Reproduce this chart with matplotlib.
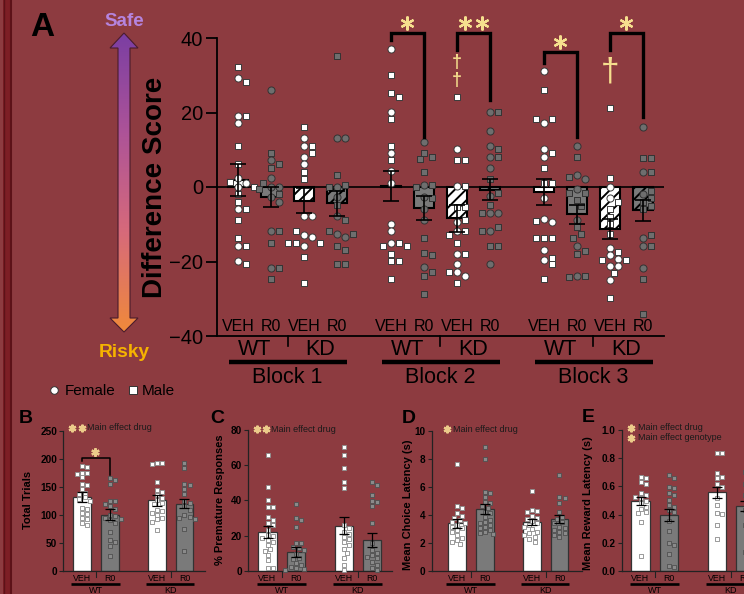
import numpy as np
import matplotlib
matplotlib.use("Agg")
import matplotlib.pyplot as plt
import matplotlib.transforms as mtrans
from matplotlib.patches import Polygon, Rectangle
from matplotlib.colors import LinearSegmentedColormap

plt.rcParams['font.family'] = ['Liberation Sans', 'DejaVu Sans']
plt.rcParams['hatch.linewidth'] = 1.4

W, H = 744, 594
BG = '#8d3b40'
STAR = '#f6df8e'
GREY = '#7a7a7a'

# ---------------- panel A : difference score ----------------
cond_labels = ['VEH', 'R0', 'VEH', 'R0']
geno_labels = ['WT', 'KD']
block_labels = ['Block 1', 'Block 2', 'Block 3']

mean_b1 = [1.9, -2.6, -3.7, -4.4]
sem_b1 = [4.2, 2.7, 3.4, 3.3]
mean_b2 = [0.3, -5.7, -8.4, -0.7]
sem_b2 = [4.1, 3.2, 3.6, 2.9]
mean_b3 = [-1.3, -7.3, -11.3, -6.3]
sem_b3 = [3.5, 2.6, 2.7, 2.7]

# order in each list: WT VEH, WT R0, KD VEH, KD R0
b1_fem = [[29.2, 19.1, 17.1, 2.3, 1.1, 0.0, -5.9, -15.8, -19.8],
          [26.0, 7.2, 2.3, 0.0, 0.0, -2.6, -3.9, -11.8, -21.8],
          [13.1, 11.1, 8.1, 6.1, -7.8, -7.8, -12.9, -13.5, -15.8],
          [13.1, 13.1, 0.0, -2.6, -7.7, -12.7, -13.5]]
b1_male = [[32.1, 28.1, 19.1, 11.1, 6.1, 1.4, 0.0, -1.9, -3.9, -5.9, -8.9, -13.8, -15.8, -20.8],
           [9.0, 6.1, 5.0, 1.2, -0.5, -1.8, -11.8, -14.9, -21.8, -24.8],
           [16.1, 11.1, 9.1, 4.1, 2.1, -11.8, -14.9, -14.9, -14.9, -18.9, -25.9],
           [35.2, 3.1, 0.5, 0.0, -4.8, -8.9, -11.8, -12.7, -15.8, -16.9, -20.8, -20.8]]
b2_fem = [[37.0, 20.1, 9.0, 4.3, 1.2, -9.8, -11.9, -14.9],
          [12.1, 0.5, -2.6, -6.0, -8.9, -21.6],
          [10.1, 0.2, -9.5, -11.9, -17.9, -20.8, -22.9, -23.8],
          [20.1, 15.1, 11.1, 8.1, 5.1, -2.5, -6.9, -6.9, -11.9, -20.8]]
b2_male = [[30.1, 25.2, 24.1, 18.2, 11.1, 7.2, -14.9, -15.8, -15.8, -17.9, -19.9, -19.9, -24.8],
           [9.0, 8.1, 7.5, 4.1, 0.5, 0.0, -3.0, -13.8, -17.6, -18.3, -22.9, -23.8, -28.7],
           [24.1, 7.2, 7.2, 0.2, -5.5, -5.5, -8.9, -11.9, -12.8, -14.9, -17.9, -22.9, -25.9],
           [20.1, 10.1, 8.1, 2.1, -1.5, -4.8, -6.9, -10.8, -11.9, -15.8, -15.8]]
b3_fem = [[31.1, 17.1, 10.1, 8.1, -2.9, -8.7, -9.5, -16.8, -19.6],
          [11.1, 3.2, 2.2, -0.5, -8.9, -15.8, -23.9],
          [0.0, -3.0, -16.5, -18.3, -19.4, -21.3, -21.3, -25.0],
          [16.2, 4.1, -2.0, -13.7, -15.9, -21.8]]
b3_male = [[26.1, 18.2, 18.2, 9.0, 5.2, 1.0, 1.0, -9.2, -13.8, -13.8, -13.8, -19.0, -20.8, -24.8],
           [8.1, 2.7, -1.5, -1.5, -3.5, -5.0, -10.8, -12.5, -13.8, -17.2, -17.9, -23.9, -24.2],
           [21.1, 2.3, -3.9, -6.0, -8.0, -10.0, -12.5, -17.5, -19.7, -19.7, -23.0, -29.9],
           [7.7, 7.7, 4.1, -1.0, -3.0, -4.0, -5.0, -6.0, -13.0, -15.9, -24.8, -34.0]]

# ---------------- panels B-E ----------------
trials_mean = [132, 100, 126, 120]
trials_sem = [8.6, 10, 10, 8.4]
trials_pts = [[187, 185, 175, 174, 173, 167, 155, 153, 146, 139, 137, 131, 128, 125, 112, 110, 103, 101, 95, 92, 86, 82],
              [165, 162, 155, 125, 125, 120, 115, 110, 100, 97, 95, 93, 90, 85, 70, 55, 52, 45, 27],
              [193, 193, 191, 159, 144, 141, 135, 130, 126, 122, 119, 109, 106, 104, 100, 95, 92, 88, 73],
              [192, 184, 156, 153, 147, 138, 125, 122, 115, 109, 100, 96, 95, 93, 74, 36]]

prem_mean = [22.2, 10.4, 25.6, 17.4]
prem_sem = [3.4, 2.8, 5.0, 3.8]
prem_pts = [[66, 47.4, 40.2, 36.4, 36, 30.7, 28.8, 26.9, 26, 23, 20.3, 19.9, 18.8, 17.4, 16.5, 14.6, 12.3, 11.4, 8.9, 6.1, 1.7, 1.3],
            [37.7, 30.1, 28.8, 25, 15.9, 15.5, 13.7, 12.7, 11.8, 9.3, 7, 6.4, 4.2, 3.2, 2.3, 1.3, 0.9, 0.4],
            [70.5, 65.8, 58.2, 50.6, 47.2, 26, 24.1, 22.2, 20.7, 19.3, 18, 16.5, 14.6, 12.3, 9.9, 7, 3.2, 0.4],
            [50.6, 48.7, 43, 39.6, 38.9, 36.8, 27.3, 15.5, 11.8, 9.9, 8.9, 8, 7, 5.1, 3.2, 1.3, 0.4]]

choice_mean = [3.38, 4.38, 3.45, 3.69]
choice_sem = [0.3, 0.35, 0.22, 0.28]
choice_pts = [[7.6, 4.64, 4.5, 4.1, 3.93, 3.79, 3.6, 3.5, 3.38, 3.26, 3.14, 3.02, 2.9, 2.79, 2.55, 2.36, 2.19, 2.07, 1.9],
              [8.86, 7.98, 5.64, 5.52, 5.29, 4.93, 4.81, 4.62, 4.5, 4.21, 4.1, 3.86, 3.62, 3.5, 3.38, 3.26, 3.14, 3.02, 2.9, 2.79, 2.67, 2.6],
              [5.71, 4.33, 4.26, 4.21, 3.93, 3.79, 3.69, 3.55, 3.38, 3.26, 3.14, 2.98, 2.79, 2.67, 2.55, 2.43, 2.26, 2.07],
              [6.83, 5.29, 5.17, 4.81, 4.17, 3.86, 3.69, 3.5, 3.38, 3.14, 3.02, 2.9, 2.79, 2.67, 2.55, 2.43]]

reward_mean = [0.496, 0.397, 0.558, 0.461]
reward_sem = [0.031, 0.043, 0.04, 0.035]
reward_pts = [[0.669, 0.657, 0.629, 0.615, 0.551, 0.539, 0.527, 0.515, 0.496, 0.48, 0.456, 0.44, 0.42, 0.409, 0.345, 0.106],
              [0.681, 0.657, 0.598, 0.586, 0.551, 0.539, 0.504, 0.468, 0.456, 0.433, 0.42, 0.355, 0.284, 0.196, 0.184, 0.118, 0.038, 0.031],
              [0.835, 0.835, 0.693, 0.669, 0.657, 0.615, 0.598, 0.515, 0.468, 0.409, 0.402, 0.326, 0.227],
              [0.7, 0.693, 0.615, 0.539, 0.433, 0.326, 0.314, 0.137]]


def px_rect(x0, y0, x1, y1):
    return [x0 / W, 1 - y1 / H, (x1 - x0) / W, (y1 - y0) / H]


def swarm(vals, d, ppu_y):
    # simple beeswarm in pixel space, returns x offsets in pixels
    steps = [0.0]
    for i in range(1, 10):
        steps += [i * 0.6 * d, -i * 0.6 * d]
    placed, out = [], []
    for v in vals:
        y = v * ppu_y
        for s in steps:
            if all((s - px) ** 2 + (y - py) ** 2 >= d * d for px, py in placed):
                break
        placed.append((s, y))
        out.append(s)
    return np.array(out)


fig = plt.figure(figsize=(W / 100, H / 100), dpi=100, facecolor=BG)

ov = fig.add_axes([0, 0, 1, 1], zorder=5)
ov.set_autoscale_on(False)
ov.set_xlim(0, W)
ov.set_ylim(H, 0)
ov.axis('off')

# left border strip
ov.add_patch(Rectangle((3, 0), 9, H, facecolor='#7d1e25', edgecolor='none'))
ov.plot([3.5, 3.5], [0, H], color='#5c1218', lw=1.0)
ov.plot([11, 11], [0, H], color='#5c1218', lw=1.5)

# ---------------- panel A ----------------
axA = fig.add_axes(px_rect(217, 38, 664, 336))
axA.set_facecolor('none')
spacing_px = 33.0
block_step = 4.635
xA_left = -21 / spacing_px
axA.set_xlim(xA_left, xA_left + 447 / spacing_px)
axA.set_ylim(-40, 40)
ppu_yA = 298 / 80.0
for s in ['top', 'right']:
    axA.spines[s].set_visible(False)
for s in ['left', 'bottom']:
    axA.spines[s].set_linewidth(1.3)
axA.set_xticks([])
axA.set_yticks([-40, -20, 0, 20, 40])
axA.tick_params(axis='y', length=8, width=1.3, labelsize=14.5, pad=2)
axA.axhline(0, color='black', lw=1.2, zorder=1.5)

faces = ['white', GREY, 'white', GREY]
hatches = [None, None, '///', '///']
pt_face = ['white', '#6e6e6e', 'white', '#6e6e6e']
pt_edge = ['#3a3a3a', '#333333', '#3a3a3a', '#333333']

trA = mtrans.blended_transform_factory(axA.transData, ov.transData)
block_means = [mean_b1, mean_b2, mean_b3]
block_sems = [sem_b1, sem_b2, sem_b3]
block_fem = [b1_fem, b2_fem, b3_fem]
block_male = [b1_male, b2_male, b3_male]

for b in range(3):
    pos = b * block_step + np.arange(4)
    for j in range(4):
        axA.bar(pos[j], block_means[b][j], width=0.63, color=faces[j], edgecolor='black',
                lw=1.5, hatch=hatches[j], zorder=2)
        fv = block_fem[b][j]
        mv = block_male[b][j]
        allv = fv + mv
        offs = swarm(allv, 6.6, ppu_yA) / spacing_px
        nf = len(fv)
        axA.scatter(pos[j] + offs[:nf], fv, s=26, marker='o', facecolor=pt_face[j],
                    edgecolor=pt_edge[j], lw=0.7, zorder=3, clip_on=False)
        axA.scatter(pos[j] + offs[nf:], mv, s=24, marker='s', facecolor=pt_face[j],
                    edgecolor=pt_edge[j], lw=0.7, zorder=3, clip_on=False)
        axA.errorbar(pos[j], block_means[b][j], yerr=block_sems[b][j], color='black',
                     lw=1.2, capsize=6, capthick=1.2, zorder=4)
        axA.text(pos[j], -38.6, cond_labels[j], ha='center', va='baseline', fontsize=11.5)
    # genotype labels and separators
    axA.text(pos[0] + 0.5, 355, 'WT', transform=trA, ha='center', va='baseline', fontsize=15.5)
    axA.text(pos[2] + 0.5, 355, 'KD', transform=trA, ha='center', va='baseline', fontsize=15.5)
    axA.plot([pos[1] + 0.5] * 2, [336, 346], transform=trA, color='black', lw=1.2, clip_on=False)
    axA.plot([pos[0] - 0.27, pos[3] + 0.3], [362, 362], transform=trA, color='black', lw=3.2,
             clip_on=False, solid_capstyle='butt')
    axA.text(pos[1] + 0.5, 383, block_labels[b], transform=trA, ha='center', va='baseline',
             fontsize=15.5)

# significance brackets (x1, x2, top, left end, right end)
brackets = [(1 * block_step, 1 * block_step + 1, 41.3, 39.5, 13.4),
            (1 * block_step + 2, 1 * block_step + 3, 41.3, 36.8, 23.4),
            (2 * block_step, 2 * block_step + 1, 36.2, 33.3, 13.4),
            (2 * block_step + 2, 2 * block_step + 3, 41.3, 36.8, 18.8)]
n_stars = [1, 2, 1, 1]
for (x1, x2, top, l_end, r_end), ns in zip(brackets, n_stars):
    axA.plot([x1, x1, x2, x2], [l_end, top, top, r_end], color='black', lw=2.4,
             solid_joinstyle='miter', clip_on=False, zorder=5)
    mid = (x1 + x2) / 2
    xs = [mid] if ns == 1 else [mid - 0.25, mid + 0.25]
    for xs_ in xs:
        axA.plot(xs_, top + 2.8, marker=(6, 2, 0), ms=10, mew=1.6, color=STAR, clip_on=False, zorder=5)

# daggers (genotype effect)
axA.text(block_step + 2, 33.3, '\u2020', ha='center', va='center', fontsize=13, color=STAR,
         fontweight='bold', clip_on=False)
axA.text(block_step + 2, 28.5, '\u2020', ha='center', va='center', fontsize=13, color=STAR,
         fontweight='bold', clip_on=False)
axA.text(2 * block_step + 2, 30.9, '\u2020', ha='center', va='center', fontsize=24, color=STAR,
         clip_on=False)

ov.text(155, 187, 'Difference Score', rotation=90, ha='center', va='center', fontsize=20,
        fontweight='bold')
ov.text(30, 36, 'A', ha='left', va='baseline', fontsize=24, fontweight='bold')

# gradient arrow safe -> risky
arrow = Polygon([(124, 33), (138, 48), (130, 48), (130, 318), (138, 318), (124, 332),
                 (110, 318), (118, 318), (118, 48), (110, 48)], closed=True,
                facecolor='none', edgecolor='#4a1c2c', lw=0.8, zorder=3)
ov.add_patch(arrow)
cmap = LinearSegmentedColormap.from_list('safe_risky', ['#7a3ea3', '#ad5398', '#d76a7a', '#f08a3a'])
grad = np.linspace(0, 1, 256).reshape(-1, 1)
im = ov.imshow(grad, extent=(109, 139, 333, 32), aspect='auto', cmap=cmap, zorder=2)
im.set_clip_path(arrow)
ov.text(124, 26, 'Safe', ha='center', va='baseline', fontsize=13.5, fontweight='bold', color='#b584de')
ov.text(124, 357, 'Risky', ha='center', va='baseline', fontsize=13.8, fontweight='bold', color='#f6b300')

# legend
ov.scatter([54], [390], s=30, marker='o', facecolor='white', edgecolor='#333333', lw=0.7)
ov.text(65, 395, 'Female', ha='left', va='baseline', fontsize=11)
ov.scatter([133], [390], s=30, marker='s', facecolor='white', edgecolor='#333333', lw=0.7)
ov.text(142, 395, 'Male', ha='left', va='baseline', fontsize=11)

# ---------------- panels B-E ----------------
small_pos = np.array([0, 1, 2.68, 3.66])
small_face = ['white', GREY, 'white', GREY]
small_pt_face = ['white', '#8a8a8a', 'white', '#8a8a8a']
small_pt_edge = ['#8a8a8a', '#505050', '#8a8a8a', '#505050']


def small_panel(x_axis, x_first, x_right, spacing, y_top, y_bot, ylim, yticks, fmt,
                means, sems, pts):
    left = (x_axis - x_first) / spacing
    ax = fig.add_axes(px_rect(x_axis, y_top, x_right, y_bot))
    ax.set_facecolor('none')
    ax.set_xlim(left, left + (x_right - x_axis) / spacing)
    ax.set_ylim(*ylim)
    for s in ['top', 'right']:
        ax.spines[s].set_visible(False)
    for s in ['left', 'bottom']:
        ax.spines[s].set_linewidth(0.9)
        ax.spines[s].set_color('#222222')
    ax.set_xticks([])
    ax.set_yticks(yticks)
    ax.set_yticklabels([fmt.format(t) for t in yticks], fontsize=7.2, fontweight='bold')
    ax.tick_params(axis='y', length=3, width=0.8, pad=1.5, color='#222222')
    ppu_y = (y_bot - y_top) / (ylim[1] - ylim[0])
    for j in range(4):
        ax.bar(small_pos[j], means[j], width=0.64, color=small_face[j], edgecolor='#333333',
               lw=0.9, zorder=2)
        offs = swarm(pts[j], 4.4, ppu_y) / spacing
        ax.scatter(small_pos[j] + offs, pts[j], s=9, marker='s', facecolor=small_pt_face[j],
                   edgecolor=small_pt_edge[j], lw=0.6, zorder=3, clip_on=False)
        ax.errorbar(small_pos[j], means[j], yerr=sems[j], color='black', lw=0.9,
                    capsize=3.5, capthick=0.9, zorder=4)
    tr = mtrans.blended_transform_factory(ax.transData, ov.transData)
    for j in range(4):
        ax.text(small_pos[j], 581, cond_labels[j], transform=tr, ha='center', va='baseline',
                fontsize=6.3)
    for g in range(2):
        a, b = small_pos[2 * g], small_pos[2 * g + 1]
        ax.plot([(a + b) / 2] * 2, [571, 577], transform=tr, color='#222222', lw=0.8, clip_on=False)
        ax.plot([a - 0.38, b + 0.34], [584, 584], transform=tr, color='black', lw=1.9,
                clip_on=False, solid_capstyle='butt')
        ax.text((a + b) / 2, 593, geno_labels[g], transform=tr, ha='center', va='baseline',
                fontsize=6.5)
    return ax


axB = small_panel(63.3, 82, 205, 28, 431, 570.7, (0, 250), [0, 50, 100, 150, 200, 250], '{:.0f}',
                  trials_mean, trials_sem, trials_pts)
axC = small_panel(248.3, 267.5, 392, 28.5, 430, 570.7, (0, 80), [0, 20, 40, 60, 80], '{:.0f}',
                  prem_mean, prem_sem, prem_pts)
axD = small_panel(431.7, 457, 582, 28, 430.7, 570.7, (0, 10), [0, 2, 4, 6, 8, 10], '{:.0f}',
                  choice_mean, choice_sem, choice_pts)
axE = small_panel(621.7, 640.5, 770, 28.5, 430, 571, (0, 1.0), [0, 0.2, 0.4, 0.6, 0.8, 1.0], '{:.1f}',
                  reward_mean, reward_sem, reward_pts)

# bracket in B
axB.plot([0, 0, 1, 1], [196, 202, 202, 171], color='black', lw=1.1, clip_on=False, zorder=5)
axB.plot(0.46, 212, marker=(6, 2, 0), ms=6, mew=1.6, color='#eccb8a', clip_on=False, zorder=5)

# y labels and panel letters
ylabels = [(28, 500, 'Total Trials'), (220, 500, '% Premature Responses'),
           (408, 505, 'Mean Choice Latency (s)'), (588, 503, 'Mean Reward Latency (s)')]
for x, y, t in ylabels:
    ov.text(x, y, t, rotation=90, ha='center', va='center', fontsize=8, fontweight='bold')
letters = [(19, 423, 'B'), (210, 423, 'C'), (402, 423, 'D'), (582, 422, 'E')]
for x, y, t in letters:
    ov.text(x, y, t, ha='left', va='baseline', fontsize=14, fontweight='bold')

# main effect notes
notes = [([72, 82], 428, 87, 'Main effect drug'),
         ([257, 266], 429, 271, 'Main effect drug'),
         ([447], 429, 453, 'Main effect drug'),
         ([631], 428, 638, 'Main effect drug'),
         ([631], 438, 638, 'Main effect genotype')]
for xs, y, xt, t in notes:
    for x in xs:
        ov.plot(x, y, marker=(6, 2, 0), ms=5.5, mew=1.6, color='#eccb8a')
    ov.text(xt, y, t, ha='left', va='center', fontsize=6.5, color='#1a1a1a')

ov.set_xlim(0, W)
ov.set_ylim(H, 0)

fig.savefig('out.png', dpi=100, facecolor=BG)
